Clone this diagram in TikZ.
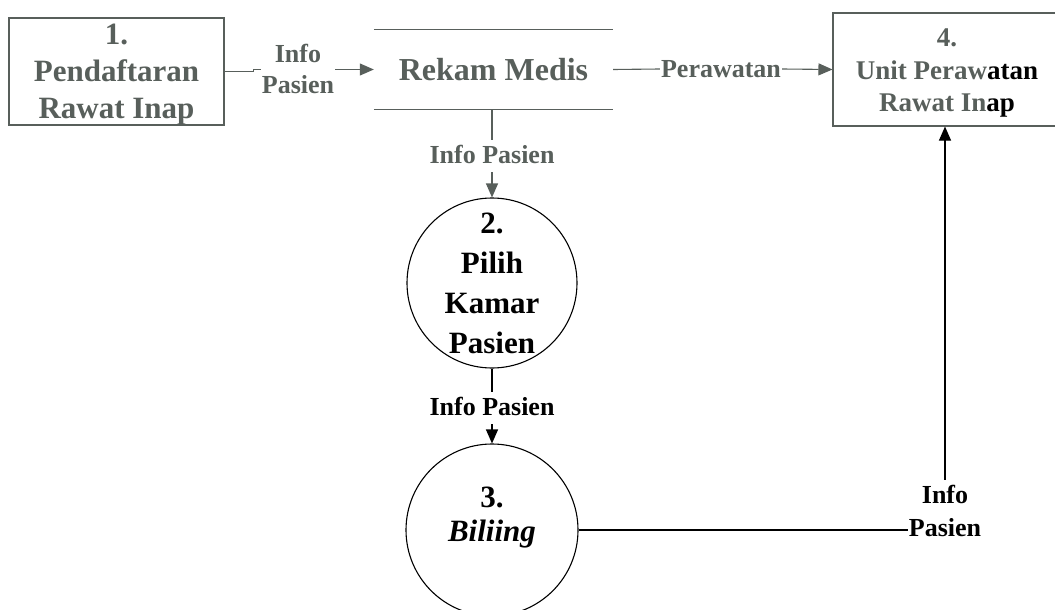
\documentclass[tikz,border=0pt]{standalone}
\usepackage{fontspec}
\setmainfont{Liberation Serif}
\usetikzlibrary{arrows.meta}
\definecolor{wm}{RGB}{88,95,91}
\tikzset{
  conn/.style={line width=1.1pt},
  arr/.style={conn,-{Triangle[length=14pt,width=12pt]}},
  lbl/.style={font=\fontsize{26}{31}\selectfont\bfseries, align=center, inner xsep=1pt, inner ysep=4pt},
  vlbl/.style={lbl, text depth=5pt, anchor=base},
  boxshape/.style={draw, conn, rectangle, inner sep=0pt},
  circshape/.style={draw, conn, circle, inner sep=0pt},
  bigtext/.style={font=\fontsize{31}{37}\selectfont\bfseries, align=center, inner sep=0pt},
}
\begin{document}
\begin{tikzpicture}[x=1pt,y=-1pt]
\useasboundingbox (0,0) rectangle (1055,610);
\clip (0,0) rectangle (1055,610);

% shapes
\node[boxshape, draw=wm, minimum width=215pt, minimum height=107pt] (p1) at (116.5,71.5) {};
\node[bigtext, text=wm] (p1t) at (116.5,74.5) {1.\\Pendaftaran\\Rawat Inap};

\node[inner sep=0pt, minimum width=239pt, minimum height=79pt,
      font=\fontsize{32}{38}\selectfont\bfseries, text=wm] (rm) at (493.5,69.5) {Rekam Medis};
\draw[conn, wm] (rm.north west) -- (rm.north east);
\draw[conn, wm] (rm.south west) -- (rm.south east);

\node[boxshape, draw=wm, minimum width=229pt, minimum height=113pt] (p4) at (947.5,69.5) {};
\node[font=\fontsize{27}{32.5}\selectfont\bfseries, align=center, inner sep=0pt, text=wm] (p4t) at (947,73.4)
  {4.\\Unit Peraw\textcolor{black}{atan}\\Rawat In\textcolor{black}{ap}};

\node[circshape, minimum size=170pt, font=\fontsize{31}{40}\selectfont\bfseries, align=center] (c2) at (492,283)
  {2.\\Pilih\\Kamar\\Pasien};

\node[circshape, minimum size=172pt] (c3) at (492,530) {};
\node[font=\fontsize{31}{34}\selectfont\bfseries, align=center, inner sep=0pt] (c3t) at (492,518)
  {3.\\\textit{Biliing}};

% labels
\node[lbl, text=wm] (l1) at (298,68.5) {Info\\Pasien};
\node[vlbl, text=wm] (l2) at (492,163) {Info Pasien};
\node[lbl, text=wm] (l3) at (721,69) {Perawatan};
\node[vlbl] (l4) at (492,415) {Info Pasien};
\node[lbl, font=\fontsize{26}{33}\selectfont\bfseries, inner ysep=5pt] (l5) at (945,510.5) {Info\\Pasien};

% connectors
\draw[conn, wm] (p1.east) -- ++(29,0) -- ++(0,-2) -- (l1.west |- 0,69.5);
\draw[arr, wm] (l1.east |- rm.west) -- (rm.west);
\draw[conn, wm] (rm.east) -- (l3.west);
\draw[arr, wm] (l3.east) -- (p4.west);
\draw[conn, wm] (rm.south -| c2.north) -- (l2.north);
\draw[arr, wm] (l2.south) -- (c2.north);
\draw[conn] (c2.south) -- (l4.north);
\draw[arr] (l4.south) -- (c3.north);
\draw[conn] (c3.east) -- (c3.east -| l5.west);
\draw[arr] (l5.north) -- (l5.north |- p4.south);
\end{tikzpicture}
\end{document}
